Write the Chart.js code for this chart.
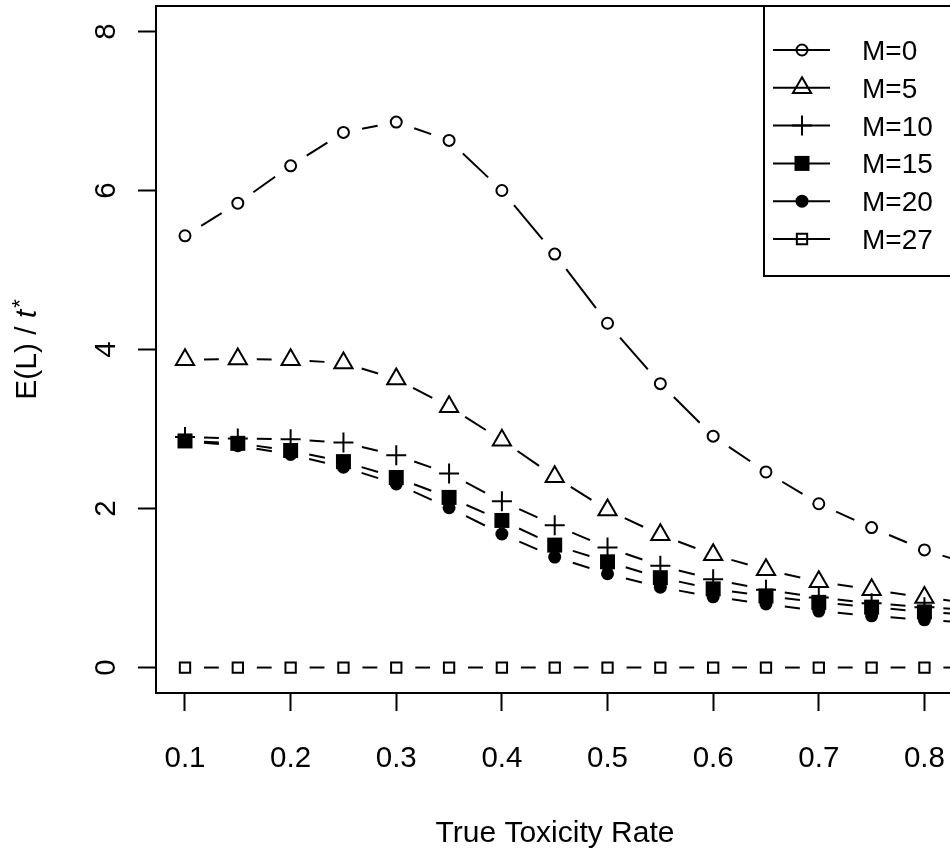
<!DOCTYPE html>
<html>
<head>
<meta charset="utf-8">
<script src="https://cdn.jsdelivr.net/npm/chart.js@4/dist/chart.umd.min.js"></script>
<style>
  html, body { margin: 0; padding: 0; background: #fff; overflow: hidden; }
  #wrap { position: absolute; left: 0; top: 0; width: 956px; height: 855px; }
</style>
</head>
<body>
<div id="wrap"><canvas id="chart" width="956" height="855"></canvas></div>
<script>
// values
const toxRates = [0.1, 0.15, 0.2, 0.25, 0.3, 0.35, 0.4, 0.45, 0.5, 0.55, 0.6, 0.65, 0.7, 0.75, 0.8, 0.85];
const m0  = [5.43, 5.84, 6.31, 6.73, 6.86, 6.63, 6.00, 5.20, 4.33, 3.57, 2.91, 2.46, 2.06, 1.76, 1.48, 1.27];
const m5  = [3.87, 3.88, 3.87, 3.83, 3.63, 3.28, 2.86, 2.40, 1.98, 1.67, 1.42, 1.23, 1.08, 0.98, 0.88, 0.80];
const m10 = [2.90, 2.88, 2.87, 2.83, 2.67, 2.44, 2.09, 1.79, 1.51, 1.28, 1.11, 0.98, 0.88, 0.81, 0.76, 0.72];
const m15 = [2.85, 2.82, 2.73, 2.59, 2.39, 2.14, 1.85, 1.54, 1.33, 1.13, 0.99, 0.90, 0.82, 0.76, 0.70, 0.66];
const m20 = [2.85, 2.79, 2.68, 2.52, 2.31, 2.01, 1.68, 1.39, 1.18, 1.01, 0.89, 0.80, 0.71, 0.65, 0.60, 0.56];
const m27 = [0, 0, 0, 0, 0, 0, 0, 0, 0, 0, 0, 0, 0, 0, 0, 0];
const seriesNames = ['M=0', 'M=5', 'M=10', 'M=15', 'M=20', 'M=27'];
const xTicks = [0.1, 0.2, 0.3, 0.4, 0.5, 0.6, 0.7, 0.8];
const yTicks = [0, 2, 4, 6, 8];

const FONT = '"Liberation Sans", Arial, Helvetica, sans-serif';
const GAP = 19; // blank space left around each point, like R type="b"

// marker look per series
const markers = [
  { pointStyle: 'circle',   radius: 5.5,  fill: 'rgba(0,0,0,0)', border: 2 },
  { pointStyle: 'triangle', radius: 10.5, fill: 'rgba(0,0,0,0)', border: 2 },
  { pointStyle: 'cross',    radius: 10,   fill: 'rgba(0,0,0,0)', border: 2 },
  { pointStyle: 'rect',     radius: 10.6, fill: '#000',          border: 0 },
  { pointStyle: 'circle',   radius: 6.5,  fill: '#000',          border: 0 },
  { pointStyle: 'rect',     radius: 7.3,  fill: 'rgba(0,0,0,0)', border: 2 }
];

function segLen(c) {
  return Math.hypot(c.p1.x - c.p0.x, c.p1.y - c.p0.y);
}

const allSeries = [m0, m5, m10, m15, m20, m27];

const datasets = allSeries.map((vals, i) => ({
  label: seriesNames[i],
  data: vals.map((v, j) => ({ x: toxRates[j], y: v })),
  borderColor: '#000',
  borderWidth: 2,
  tension: 0,
  fill: false,
  pointStyle: markers[i].pointStyle,
  pointRadius: markers[i].radius,
  pointBackgroundColor: markers[i].fill,
  pointBorderColor: '#000',
  pointBorderWidth: markers[i].border,
  order: 6 - i,
  segment: {
    borderDash: c => {
      const L = segLen(c);
      return L > 2 * GAP ? [L - 2 * GAP, 2 * GAP] : [0, L + 1];
    },
    borderDashOffset: c => segLen(c) - GAP
  }
}));

const rPlot = {
  id: 'rPlot',
  afterDraw(chart) {
    const ctx = chart.ctx;
    const a = chart.chartArea;
    const xs = chart.scales.x, ys = chart.scales.y;
    ctx.save();
    ctx.fillStyle = '#000';
    ctx.strokeStyle = '#000';

    // box
    ctx.lineWidth = 2;
    ctx.strokeRect(a.left, a.top, a.right - a.left, a.bottom - a.top);

    // x tick labels and title
    ctx.font = '29.5px ' + FONT;
    ctx.textAlign = 'center';
    ctx.textBaseline = 'alphabetic';
    xTicks.forEach(v => ctx.fillText(v.toFixed(1), xs.getPixelForValue(v), 767));
    ctx.font = '30px ' + FONT;
    ctx.fillText('True Toxicity Rate', (a.left + a.right) / 2, 842);

    // y tick labels, turned like R's las=0
    ctx.font = '29.5px ' + FONT;
    yTicks.forEach(v => {
      ctx.save();
      ctx.translate(115, ys.getPixelForValue(v));
      ctx.rotate(-Math.PI / 2);
      ctx.fillText(String(v), 0, 0);
      ctx.restore();
    });

    // y title: E(L) / t*
    ctx.save();
    ctx.translate(36, (a.top + a.bottom) / 2);
    ctx.rotate(-Math.PI / 2);
    ctx.textAlign = 'left';
    const part1 = 'E(L) / ';
    ctx.font = '30px ' + FONT;
    const w1 = ctx.measureText(part1).width;
    ctx.font = 'italic 30px ' + FONT;
    const w2 = ctx.measureText('t').width;
    ctx.font = '22px ' + FONT;
    const w3 = ctx.measureText('*').width;
    let x0 = -(w1 + w2 + w3 + 2) / 2;
    ctx.font = '30px ' + FONT;
    ctx.fillText(part1, x0, 0);
    ctx.font = 'italic 30px ' + FONT;
    ctx.fillText('t', x0 + w1, 0);
    ctx.font = '22px ' + FONT;
    ctx.fillText('*', x0 + w1 + w2 + 2, -9);
    ctx.restore();

    // legend, top right inside the box
    const lx = 764, lb = 276;
    ctx.lineWidth = 2;
    ctx.strokeRect(lx, a.top, a.right - lx, lb - a.top);
    ctx.font = '28px ' + FONT;
    ctx.textAlign = 'left';
    seriesNames.forEach((name, i) => {
      const yy = 50 + i * 37.8;
      ctx.setLineDash([]);
      ctx.lineWidth = 2;
      ctx.beginPath();
      ctx.moveTo(773, yy);
      ctx.lineTo(830, yy);
      ctx.stroke();
      ctx.fillStyle = markers[i].fill;
      ctx.strokeStyle = '#000';
      ctx.lineWidth = markers[i].border;
      Chart.helpers.drawPoint(ctx, {
        pointStyle: markers[i].pointStyle,
        radius: markers[i].radius,
        rotation: 0,
        borderWidth: markers[i].border
      }, 802, yy);
      ctx.fillStyle = '#000';
      ctx.fillText(name, 862, yy + 10);
    });
    ctx.restore();
  }
};

new Chart(document.getElementById('chart'), {
  type: 'line',
  data: { datasets },
  options: {
    responsive: false,
    animation: false,
    events: [],
    layout: { autoPadding: false, padding: { top: 6, right: 2, bottom: 0, left: 0 } },
    plugins: { legend: { display: false }, tooltip: { enabled: false } },
    scales: {
      x: {
        type: 'linear',
        min: 0.07255,
        max: 0.828,
        afterBuildTicks: s => { s.ticks = xTicks.map(v => ({ value: v })); },
        afterFit: s => { s.height = 162; },
        ticks: { display: false },
        border: { display: false },
        grid: { drawOnChartArea: false, drawTicks: true, tickLength: 18, tickWidth: 2, tickColor: '#000' }
      },
      y: {
        type: 'linear',
        min: -0.32,
        max: 8.32,
        afterBuildTicks: s => { s.ticks = yTicks.map(v => ({ value: v })); },
        afterFit: s => { s.width = 156; },
        ticks: { display: false },
        border: { display: false },
        grid: { drawOnChartArea: false, drawTicks: true, tickLength: 18, tickWidth: 2, tickColor: '#000' }
      }
    }
  },
  plugins: [rPlot]
});
</script>
</body>
</html>
